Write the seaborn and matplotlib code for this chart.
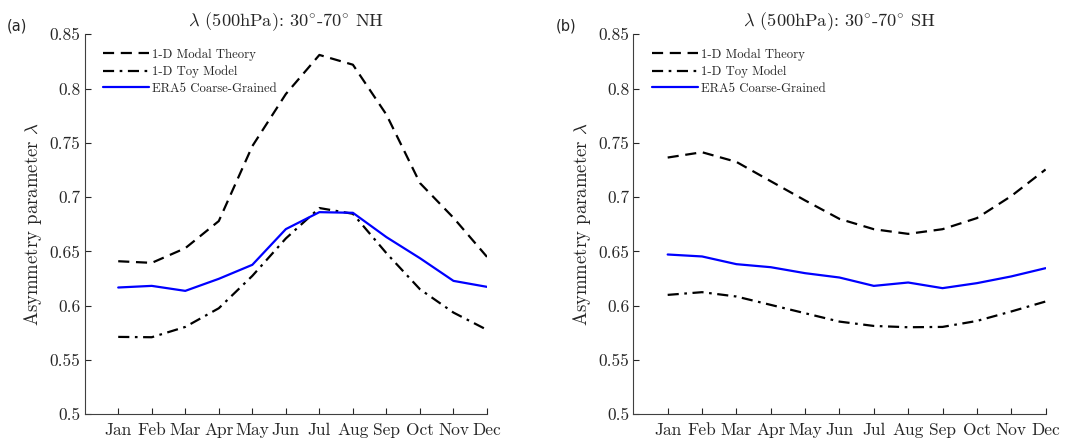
import numpy as np
import pandas as pd
import seaborn as sns
import matplotlib.pyplot as plt

# Données
mois = ['Jan', 'Feb', 'Mar', 'Apr', 'May', 'Jun', 'Jul', 'Aug', 'Sep', 'Oct', 'Nov', 'Dec']

modal_nh = [0.641, 0.6395, 0.653, 0.678, 0.747, 0.795, 0.831, 0.822, 0.776, 0.713, 0.681, 0.645]
toy_nh = [0.5713, 0.571, 0.5805, 0.5977, 0.6275, 0.662, 0.690, 0.6847, 0.6484, 0.6152, 0.5937, 0.5778]
era5_nh = [0.6168, 0.6183, 0.6137, 0.6248, 0.6377, 0.6706, 0.6862, 0.6856, 0.6632, 0.6438, 0.6229, 0.6174]

modal_sh = [0.7365, 0.7414, 0.7325, 0.7147, 0.697, 0.680, 0.6705, 0.6662, 0.6705, 0.6807, 0.701, 0.7255]
toy_sh = [0.610, 0.6125, 0.6085, 0.6008, 0.5931, 0.5854, 0.5814, 0.5802, 0.5805, 0.586, 0.5947, 0.6039]
era5_sh = [0.6472, 0.6454, 0.6383, 0.6355, 0.630, 0.626, 0.6183, 0.6214, 0.6162, 0.6208, 0.627, 0.6346]

noms = ['1-D Modal Theory', '1-D Toy Model', 'ERA5 Coarse-Grained']
yticks = [0.5, 0.55, 0.6, 0.65, 0.7, 0.75, 0.8, 0.85]

sns.set_style('ticks')
plt.rcParams['font.family'] = ['cmr10', 'DejaVu Serif']
plt.rcParams['mathtext.fontset'] = 'cm'
plt.rcParams['axes.formatter.use_mathtext'] = True
plt.rcParams['xtick.direction'] = 'in'
plt.rcParams['ytick.direction'] = 'in'


def tableau(modal, toy, era5):
    df = pd.DataFrame({'mois': np.arange(1, 13), noms[0]: modal, noms[1]: toy, noms[2]: era5})
    return df.melt(id_vars='mois', var_name='serie', value_name='lam')


couleurs = {noms[0]: 'black', noms[1]: 'black', noms[2]: '#0000ff'}
tirets = {noms[0]: (5, 3), noms[1]: (5, 2.5, 1.2, 2.5), noms[2]: ''}

fig = plt.figure(figsize=(10.68, 4.41), dpi=100)
ax1 = fig.add_axes([0.0793, 0.0605, 0.3767, 0.8617])
ax2 = fig.add_axes([0.593, 0.0605, 0.386, 0.8617])

panneaux = [(ax1, tableau(modal_nh, toy_nh, era5_nh), 'NH', '(a)', 0.006),
            (ax2, tableau(modal_sh, toy_sh, era5_sh), 'SH', '(b)', 0.52)]

for ax, df, hemi, lettre, xl in panneaux:
    sns.lineplot(data=df, x='mois', y='lam', hue='serie', style='serie',
                 palette=couleurs, dashes=tirets, linewidth=1.6, ax=ax)
    ax.set_xlim(0, 12)
    ax.set_ylim(0.5, 0.85)
    ax.set_xticks(np.arange(1, 13))
    ax.set_xticklabels(mois, fontsize=12.5)
    ax.set_yticks(yticks)
    ax.set_yticklabels(['%g' % v for v in yticks], fontsize=12.5)
    ax.set_xlabel('')
    ax.set_ylabel(r'Asymmetry parameter $\lambda$', fontsize=13.5, labelpad=4)
    ax.set_title(r'$\lambda$ (500hPa): 30$^{\circ}$-70$^{\circ}$ ' + hemi, fontsize=13.2)
    ax.tick_params(axis='y', length=4, width=0.8, colors='#262626', pad=3)
    ax.tick_params(axis='x', length=4, width=0.8, colors='#262626', pad=6)
    for s in ['left', 'bottom']:
        ax.spines[s].set_color('#404040')
        ax.spines[s].set_linewidth(0.8)
    sns.despine(ax=ax)
    ax.legend(loc='upper left', frameon=False, fontsize=9.2, handlelength=3.6,
              handletextpad=0.25, labelspacing=0.35, borderaxespad=0.4,
              bbox_to_anchor=(0.02, 0.99))
    fig.text(xl, 0.93, lettre, fontsize=10.5, family='DejaVu Sans')

plt.savefig('out.png', dpi=100)
